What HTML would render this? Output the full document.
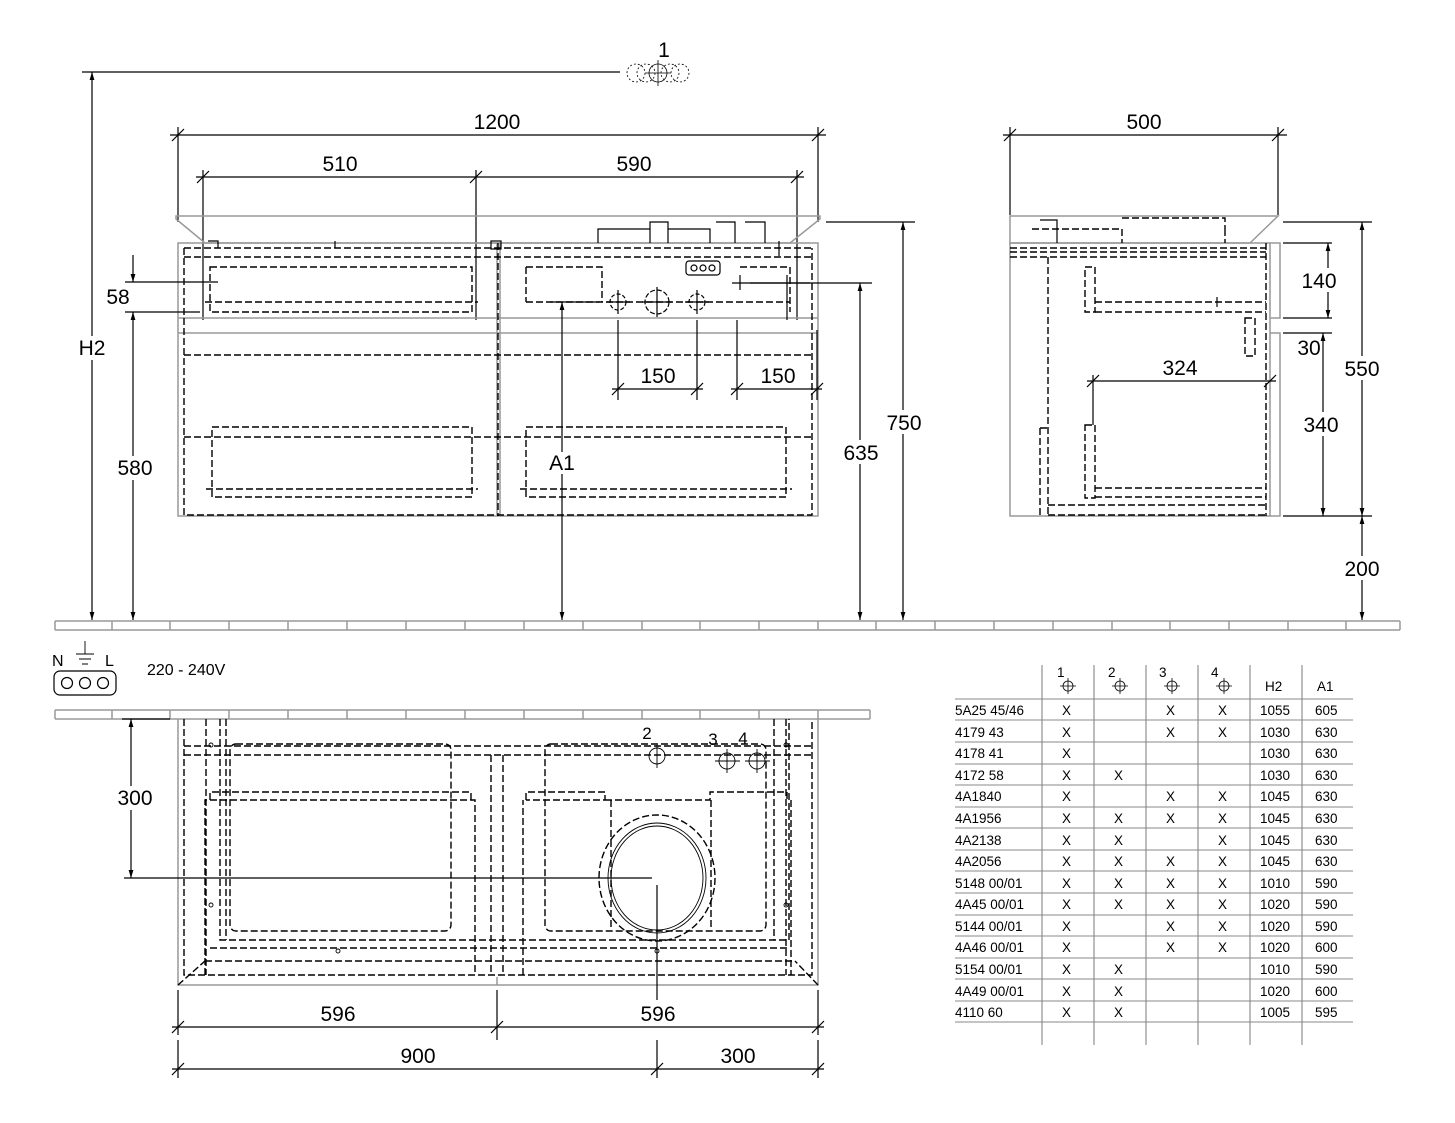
<!DOCTYPE html>
<html><head><meta charset="utf-8"><style>
html,body{margin:0;padding:0;background:#fff}
svg{display:block}
text{font-family:"Liberation Sans",Arial,sans-serif;fill:#000}
.g{stroke:#999;fill:none;stroke-width:1.5}
.k{stroke:#000;fill:none;stroke-width:1.2}
.d{stroke:#000;fill:none;stroke-width:1.4;stroke-dasharray:7,3}
.t{font-size:21px}
.s{font-size:13.5px}
</style></head><body>
<svg width="1455" height="1123" viewBox="0 0 1455 1123" xmlns="http://www.w3.org/2000/svg">
<defs>
<marker id="a" viewBox="0 0 10 10" refX="10" refY="5" markerWidth="8" markerHeight="10" orient="auto-start-reverse" markerUnits="userSpaceOnUse"><path d="M0,2 L10,5 L0,8z" fill="#000"/></marker>
</defs>

<!-- Floor tiles -->
<g class="g" stroke-width="1.3">
<path d="M55,621 H1400 M55,630 H1400"/>
<path d="M55,621 V630 M112,621V630 M170,621V630 M229,621V630 M288,621V630 M347,621V630 M406,621V630 M465,621V630 M524,621V630 M583,621V630 M642,621V630 M700,621V630 M759,621V630 M818,621V630 M876,621V630 M935,621V630 M994,621V630 M1053,621V630 M1112,621V630 M1170,621V630 M1229,621V630 M1288,621V630 M1346,621V630 M1400,621V630"/>
<path d="M55,710 H870 M55,719 H870"/>
<path d="M55,710V719 M112,710V719 M170,710V719 M229,710V719 M288,710V719 M347,710V719 M406,710V719 M465,710V719 M524,710V719 M583,710V719 M642,710V719 M700,710V719 M759,710V719 M818,710V719 M870,710V719"/>
</g>

<!-- symbol 1 -->
<g stroke="#000" stroke-width="0.8" fill="none">
<circle cx="636" cy="73" r="9" stroke-dasharray="2,2"/><circle cx="680" cy="73" r="9" stroke-dasharray="2,2"/>
<circle cx="646" cy="73" r="9" stroke-dasharray="2,2"/><circle cx="670" cy="73" r="9" stroke-dasharray="2,2"/>
<circle cx="658" cy="73" r="9"/><path d="M645,73H671M658,60V86"/>
</g>
<text x="664" y="57" class="t" text-anchor="middle">1</text>

<!-- H2 -->
<path class="k" d="M82,72H620"/>
<path class="k" d="M92,620V72" marker-end="url(#a)" marker-start="url(#a)"/>
<rect x="76" y="336" width="32" height="24" fill="#fff"/>
<text x="92" y="355" class="t" text-anchor="middle">H2</text>

<!-- 1200, 510, 590 -->
<path class="k" d="M170,135H826 M178,127V222 M818,127V222"/>
<path class="k" d="M172,141L184,129 M812,141L824,129"/>
<text x="497" y="129" class="t" text-anchor="middle">1200</text>
<path class="k" d="M196,177H804 M203,170V320 M476,170V320 M797,170V320"/>
<path class="k" d="M197,183L209,171 M470,183L482,171 M791,183L803,171"/>
<text x="340" y="171" class="t" text-anchor="middle">510</text>
<text x="634" y="171" class="t" text-anchor="middle">590</text>

<!-- Front view cabinet -->
<path class="g" d="M176,216H820V219L790,243H205L176,219Z"/>
<rect class="g" x="178" y="243" width="640" height="273"/>
<path class="g" d="M178,318H818 M178,333H818 M497,243V516 M500,243V516"/>
<g class="d">
<path d="M184,248H812 M184,257H812 M184,248V515H812V248"/>
<path d="M184,355H812 M184,437H812"/>
<rect x="210" y="267" width="262" height="45"/>
<path d="M205,302H478"/>
<path d="M526,267H602V302 M526,267V302 M526,302H790"/>
<path d="M740,267H790V312"/>
<rect x="212" y="427" width="260" height="70"/>
<path d="M206,489H478"/>
<rect x="526" y="427" width="260" height="70"/>
<path d="M520,489H792"/>
<path d="M498,243V516"/>
</g>
<g class="k" stroke-width="1">
<rect x="491" y="241" width="10" height="8"/>
<path d="M598,243V229H650V222H668V229H710V243 M650,222V243 M668,222V243 M716,222H735V243 M745,222H765V243"/>
<path d="M208,241H218V248 M335,241V248 M779,241V256"/>
</g>
<rect x="686" y="261" width="34" height="14" rx="3" class="k"/>
<g class="k" stroke-width="0.9"><circle cx="694" cy="268" r="3"/><circle cx="703" cy="268" r="3"/><circle cx="712" cy="268" r="3"/></g>
<g stroke="#000" stroke-width="1.2" fill="none">
<circle cx="618" cy="302" r="8" stroke-dasharray="4,2"/><path d="M606,302H630M618,290V314"/>
<circle cx="657" cy="302" r="12" stroke-dasharray="5,2"/><path d="M642,302H672M657,287V317"/>
<circle cx="697" cy="302" r="8" stroke-dasharray="4,2"/><path d="M685,302H709M697,290V314"/>
<path d="M732,283H810 M740,275V290 M787,275V320"/>
</g>
<path class="k" d="M612,389H703 M618,320V400 M697,320V400 M731,389H822 M737,320V400 M817,330V400"/>
<path class="k" d="M612,395L624,383 M691,395L703,383 M731,395L743,383 M811,395L823,383"/>
<text x="658" y="383" class="t" text-anchor="middle">150</text>
<text x="778" y="383" class="t" text-anchor="middle">150</text>
<path class="k" d="M125,282H218 M125,312H200"/>
<path class="k" d="M133,255V282" marker-end="url(#a)"/>
<path class="k" d="M133,312V620" marker-start="url(#a)" marker-end="url(#a)"/>
<text x="118" y="304" class="t" text-anchor="middle">58</text>
<rect x="114" y="456" width="42" height="24" fill="#fff"/>
<text x="135" y="475" class="t" text-anchor="middle">580</text>
<path class="k" d="M550,302H600"/>
<path class="k" d="M562,620V302" marker-end="url(#a)" marker-start="url(#a)"/>
<rect x="547" y="452" width="32" height="22" fill="#fff"/>
<text x="562" y="470" class="t" text-anchor="middle">A1</text>
<path class="k" d="M750,283H872 M826,222H915"/>
<path class="k" d="M860,283V620" marker-start="url(#a)" marker-end="url(#a)"/>
<path class="k" d="M903,222V620" marker-start="url(#a)" marker-end="url(#a)"/>
<rect x="838" y="440" width="44" height="24" fill="#fff"/>
<text x="861" y="460" class="t" text-anchor="middle">635</text>
<rect x="882" y="410" width="44" height="24" fill="#fff"/>
<text x="904" y="430" class="t" text-anchor="middle">750</text>

<!-- Side view -->
<path class="k" d="M1003,135H1287 M1010,127V215 M1278,127V215"/>
<path class="k" d="M1004,141L1016,129 M1272,141L1284,129"/>
<text x="1144" y="129" class="t" text-anchor="middle">500</text>
<path class="g" d="M1010,216H1278L1250,243H1010Z"/>
<rect class="g" x="1010" y="243" width="260" height="273"/>
<path class="g" d="M1270,243H1280V318H1270 M1270,333H1280V516H1270"/>
<g class="d">
<path d="M1010,248H1266 M1010,252H1266 M1010,257H1266 M1048,257V515 M1266,243V516 M1048,505H1266 M1048,515H1266"/>
<rect x="1085" y="267" width="10" height="45"/>
<path d="M1095,302H1266 M1095,312H1266"/>
<rect x="1245" y="318" width="10" height="38"/>
<rect x="1085" y="425" width="10" height="73"/>
<path d="M1095,488H1266 M1095,497H1266 M1040,428H1048 M1040,428V516"/>
<path d="M1032,229H1122V243 M1122,218H1225V229 M1225,229V243"/>
</g>
<path class="k" d="M1040,220H1057V243 M1217,297V307 M1093,375V425"/>
<path class="k" d="M1087,381H1276"/>
<path class="k" d="M1087,387L1099,375 M1264,387L1276,375"/>
<text x="1180" y="375" class="t" text-anchor="middle">324</text>
<path class="k" d="M1283,243H1332 M1283,318H1332 M1283,333H1332 M1283,516H1372 M1283,222H1372"/>
<path class="k" d="M1328,243V318" marker-start="url(#a)" marker-end="url(#a)"/>
<path class="k" d="M1323,333V516" marker-start="url(#a)" marker-end="url(#a)"/>
<path class="k" d="M1362,222V516" marker-start="url(#a)" marker-end="url(#a)"/>
<path class="k" d="M1362,516V620" marker-end="url(#a)" marker-start="url(#a)"/>
<rect x="1298" y="268" width="42" height="24" fill="#fff"/>
<text x="1319" y="288" class="t" text-anchor="middle">140</text>
<text x="1309" y="355" class="t" text-anchor="middle">30</text>
<rect x="1299" y="412" width="44" height="24" fill="#fff"/>
<text x="1321" y="432" class="t" text-anchor="middle">340</text>
<rect x="1340" y="356" width="44" height="24" fill="#fff"/>
<text x="1362" y="376" class="t" text-anchor="middle">550</text>
<rect x="1340" y="556" width="44" height="24" fill="#fff"/>
<text x="1362" y="576" class="t" text-anchor="middle">200</text>

<!-- Electrical -->
<text x="52" y="666" font-size="16">N</text>
<text x="105" y="666" font-size="16">L</text>
<path d="M85,641V654 M76,654H94 M79,659H91 M82,664H88" stroke="#000" stroke-width="0.9" fill="none"/>
<rect x="54" y="671" width="62" height="24" rx="6" class="k"/>
<g class="k" stroke-width="0.9"><circle cx="67" cy="683" r="5.5"/><circle cx="85" cy="683" r="5.5"/><circle cx="103" cy="683" r="5.5"/></g>
<text x="147" y="675" font-size="16">220 - 240V</text>

<!-- Plan view -->
<path class="g" d="M178,719V985H818V719 M178,985H818 M497,977V985"/>
<g class="d">
<path d="M184,719V975H812V719 M206,719V975 M220,719V940H789V719 M226,719V940 M774,719V940 M786,719V975"/>
<path d="M184,746H812 M184,755H812"/>
<rect x="230" y="744" width="221" height="187" rx="6"/>
<rect x="545" y="744" width="221" height="187" rx="6"/>
<path d="M210,800V792H471V800 M205,975V800H475V975"/>
<path d="M526,800V792H605V800H526 M523,975V800 M605,800H710V792H787V800 M711,800V930 M611,800V930 M791,800V975"/>
<path d="M491,755V975 M503,755V975 M210,948H790 M205,961H795"/>
<path d="M178,985L205,961 M818,985L795,961"/>
<ellipse cx="657" cy="878" rx="58" ry="63"/>
</g>
<g stroke="#000" stroke-width="0.9" fill="none">
<ellipse cx="657" cy="878" rx="49" ry="55"/><ellipse cx="657" cy="878" rx="46" ry="52"/>
<circle cx="657" cy="756" r="8"/><path d="M657,745V768"/>
<circle cx="727" cy="761" r="8"/><path d="M715,761H740M727,749V773"/>
<circle cx="757" cy="761" r="8"/><path d="M745,761H770M757,749V773"/>
<circle cx="211" cy="745" r="2"/><circle cx="211" cy="905" r="2"/><circle cx="786" cy="745" r="2"/><circle cx="786" cy="905" r="2"/><circle cx="338" cy="951" r="2"/><circle cx="657" cy="951" r="2"/>
</g>
<text x="647" y="739" font-size="17" text-anchor="middle">2</text>
<text x="713" y="745" font-size="17" text-anchor="middle">3</text>
<text x="743" y="744" font-size="17" text-anchor="middle">4</text>
<path class="k" d="M124,878H652 M657,885V1000 M122,719H170"/>
<path class="k" d="M131,719V878" marker-start="url(#a)" marker-end="url(#a)"/>
<rect x="114" y="786" width="42" height="24" fill="#fff"/>
<text x="135" y="805" class="t" text-anchor="middle">300</text>
<path class="k" d="M172,1027H824 M178,990V1035 M497,990V1040 M818,990V1035"/>
<path class="k" d="M172,1033L184,1021 M491,1033L503,1021 M812,1033L824,1021"/>
<text x="338" y="1021" class="t" text-anchor="middle">596</text>
<text x="658" y="1021" class="t" text-anchor="middle">596</text>
<path class="k" d="M172,1069H824 M178,1040V1078 M657,1040V1078 M818,1040V1078"/>
<path class="k" d="M172,1075L184,1063 M651,1075L663,1063 M812,1075L824,1063"/>
<text x="418" y="1063" class="t" text-anchor="middle">900</text>
<text x="738" y="1063" class="t" text-anchor="middle">300</text>

<!-- Table -->
<g stroke="#999" stroke-width="1.3">
<path d="M1042,665V1045 M1094,665V1045 M1146,665V1045 M1198,665V1045 M1250,665V1045 M1302,665V1045"/>
</g>
<g stroke="#888" stroke-width="1">
<path d="M955,699H1353 M955,720H1353 M955,742H1353 M955,764H1353 M955,785H1353 M955,807H1353 M955,828H1353 M955,850H1353 M955,871H1353 M955,893H1353 M955,915H1353 M955,936H1353 M955,958H1353 M955,979H1353 M955,1001H1353 M955,1022H1353"/>
</g>
<g stroke="#000" stroke-width="0.8" fill="none">
<circle cx="1068" cy="686" r="5"/><path d="M1060,686H1076M1068,678V694"/>
<circle cx="1120" cy="686" r="5"/><path d="M1112,686H1128M1120,678V694"/>
<circle cx="1172" cy="686" r="5"/><path d="M1164,686H1180M1172,678V694"/>
<circle cx="1224" cy="686" r="5"/><path d="M1216,686H1232M1224,678V694"/>
</g>
<g class="s">
<text x="1057" y="677">1</text><text x="1108" y="677">2</text><text x="1159" y="677">3</text><text x="1211" y="677">4</text>
<text x="1265" y="691">H2</text><text x="1317" y="691">A1</text>
</g>
<g class="s">
<text x="955" y="715">5A25 45/46</text><text x="1062" y="715">X</text><text x="1166" y="715">X</text><text x="1218" y="715">X</text><text x="1260" y="715">1055</text><text x="1315" y="715">605</text>
<text x="955" y="737">4179 43</text><text x="1062" y="737">X</text><text x="1166" y="737">X</text><text x="1218" y="737">X</text><text x="1260" y="737">1030</text><text x="1315" y="737">630</text>
<text x="955" y="758">4178 41</text><text x="1062" y="758">X</text><text x="1260" y="758">1030</text><text x="1315" y="758">630</text>
<text x="955" y="780">4172 58</text><text x="1062" y="780">X</text><text x="1114" y="780">X</text><text x="1260" y="780">1030</text><text x="1315" y="780">630</text>
<text x="955" y="801">4A1840</text><text x="1062" y="801">X</text><text x="1166" y="801">X</text><text x="1218" y="801">X</text><text x="1260" y="801">1045</text><text x="1315" y="801">630</text>
<text x="955" y="823">4A1956</text><text x="1062" y="823">X</text><text x="1114" y="823">X</text><text x="1166" y="823">X</text><text x="1218" y="823">X</text><text x="1260" y="823">1045</text><text x="1315" y="823">630</text>
<text x="955" y="845">4A2138</text><text x="1062" y="845">X</text><text x="1114" y="845">X</text><text x="1218" y="845">X</text><text x="1260" y="845">1045</text><text x="1315" y="845">630</text>
<text x="955" y="866">4A2056</text><text x="1062" y="866">X</text><text x="1114" y="866">X</text><text x="1166" y="866">X</text><text x="1218" y="866">X</text><text x="1260" y="866">1045</text><text x="1315" y="866">630</text>
<text x="955" y="888">5148 00/01</text><text x="1062" y="888">X</text><text x="1114" y="888">X</text><text x="1166" y="888">X</text><text x="1218" y="888">X</text><text x="1260" y="888">1010</text><text x="1315" y="888">590</text>
<text x="955" y="909">4A45 00/01</text><text x="1062" y="909">X</text><text x="1114" y="909">X</text><text x="1166" y="909">X</text><text x="1218" y="909">X</text><text x="1260" y="909">1020</text><text x="1315" y="909">590</text>
<text x="955" y="931">5144 00/01</text><text x="1062" y="931">X</text><text x="1166" y="931">X</text><text x="1218" y="931">X</text><text x="1260" y="931">1020</text><text x="1315" y="931">590</text>
<text x="955" y="952">4A46 00/01</text><text x="1062" y="952">X</text><text x="1166" y="952">X</text><text x="1218" y="952">X</text><text x="1260" y="952">1020</text><text x="1315" y="952">600</text>
<text x="955" y="974">5154 00/01</text><text x="1062" y="974">X</text><text x="1114" y="974">X</text><text x="1260" y="974">1010</text><text x="1315" y="974">590</text>
<text x="955" y="996">4A49 00/01</text><text x="1062" y="996">X</text><text x="1114" y="996">X</text><text x="1260" y="996">1020</text><text x="1315" y="996">600</text>
<text x="955" y="1017">4110 60</text><text x="1062" y="1017">X</text><text x="1114" y="1017">X</text><text x="1260" y="1017">1005</text><text x="1315" y="1017">595</text>
</g>
</svg>
</body></html>
